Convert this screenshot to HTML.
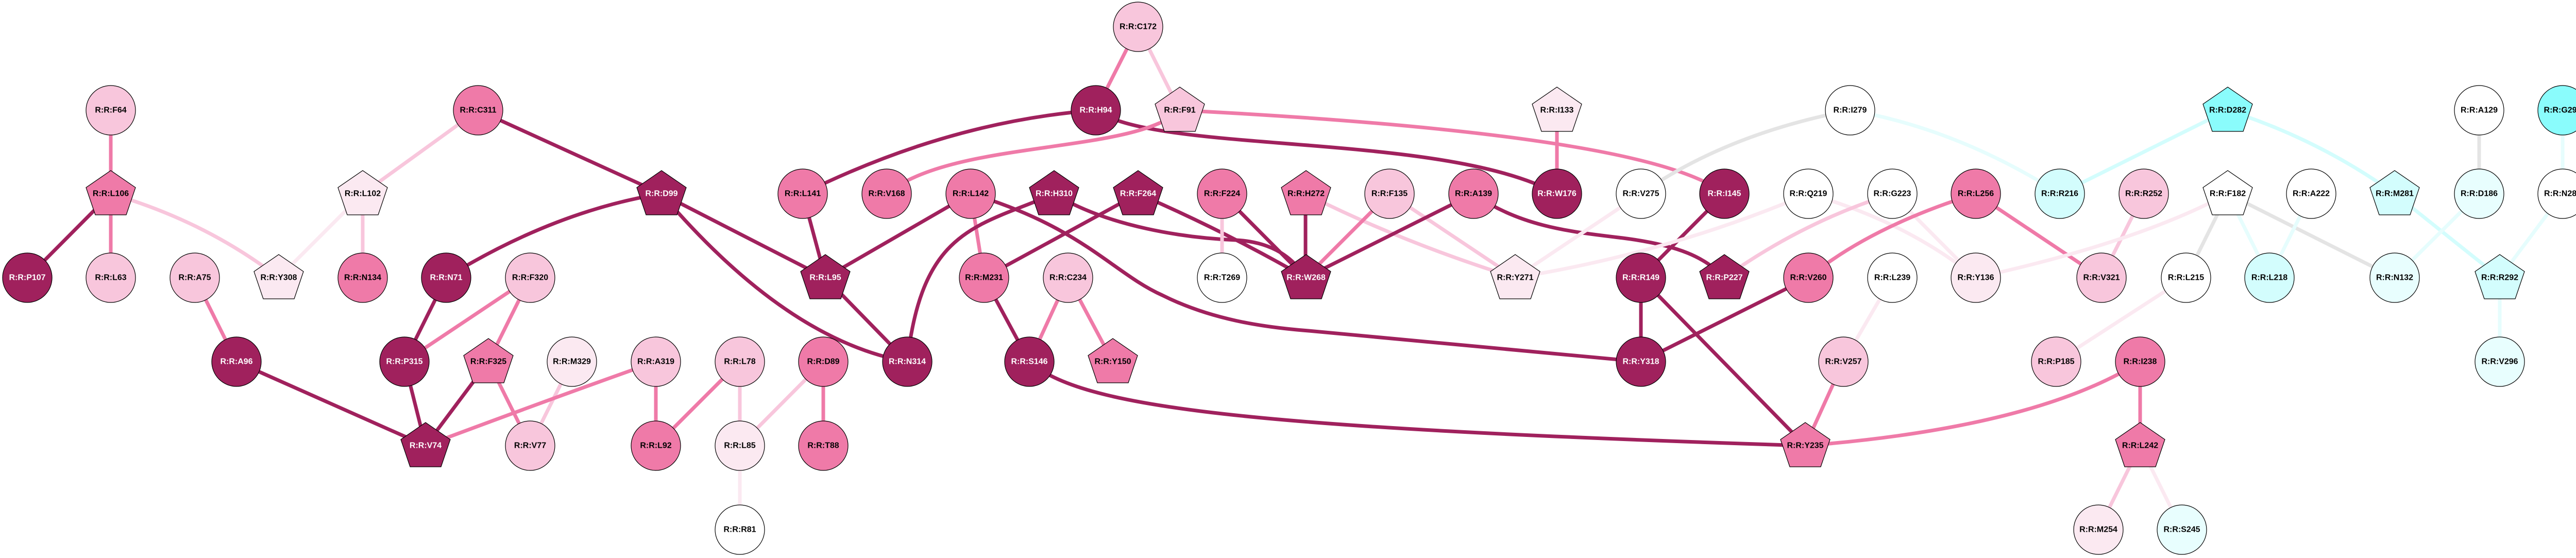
<!DOCTYPE html>
<html><head><meta charset="utf-8"><style>
html,body{margin:0;padding:0;background:#fff;}
svg{display:block;}
text{font-family:"Liberation Sans",Arial,sans-serif;font-weight:bold;font-size:16px;text-anchor:middle;dominant-baseline:central;}
.e{fill:none;stroke-width:7;}
.d{stroke:#a0215d}.m{stroke:#ef7aa8}.l{stroke:#f8c6dc}.v{stroke:#fbe9f1}.g{stroke:#e4e4e4}.c{stroke:#e6fdfd}.c2{stroke:#d3fdfd}
.n circle{stroke:#000;stroke-width:1.2;}
.w text{fill:#fff}
</style></head><body>
<svg width="5028" height="1083" viewBox="0 0 5028 1083" xmlns="http://www.w3.org/2000/svg">
<path class="e m" d="M215,214 L215,376"/>
<path class="e d" d="M215,376 L53,539"/>
<path class="e m" d="M215,376 L215,539"/>
<path class="e l" d="M215,376 Q400,430 541,539"/>
<path class="e l" d="M704,376 L928,214"/>
<path class="e v" d="M704,376 L541,539"/>
<path class="e l" d="M704,376 L704,539"/>
<path class="e m" d="M378,539 L459,702"/>
<path class="e d" d="M459,702 L826,865"/>
<path class="e d" d="M866,539 L785,702"/>
<path class="e m" d="M785,702 L1029,539"/>
<path class="e d" d="M785,702 L826,865"/>
<path class="e d" d="M928,214 L1284,376"/>
<path class="e d" d="M1284,376 Q1075,410 866,539"/>
<path class="e d" d="M1284,376 L1602,539"/>
<path class="e d" d="M1284,376 Q1527,661 1761,702"/>
<path class="e d" d="M1558,376 Q1843,235 2127,214"/>
<path class="e d" d="M1558,376 L1602,539"/>
<path class="e d" d="M1602,539 L1884,376"/>
<path class="e d" d="M1602,539 L1761,702"/>
<path class="e m" d="M1029,539 L948,702"/>
<path class="e d" d="M948,702 L826,865"/>
<path class="e m" d="M948,702 L1029,865"/>
<path class="e l" d="M1110,702 L1029,865"/>
<path class="e m" d="M1273,702 Q1080,770 826,865"/>
<path class="e m" d="M1273,702 L1273,865"/>
<path class="e m" d="M1436,702 L1273,865"/>
<path class="e l" d="M1436,702 L1436,865"/>
<path class="e l" d="M1598,702 L1436,865"/>
<path class="e m" d="M1598,702 L1598,865"/>
<path class="e v" d="M1436,865 L1436,1028"/>
<path class="e m" d="M2209,52 L2127,214"/>
<path class="e l" d="M2209,52 L2290,214"/>
<path class="e d" d="M2127,214 C2250,300 2800,255 3022,376"/>
<path class="e m" d="M2290,214 C2200,300 1850,270 1721,376"/>
<path class="e m" d="M2290,214 Q3200,260 3347,376"/>
<path class="e m" d="M1884,376 L1910,539"/>
<path class="e d" d="M1884,376 C2100,440 2160,530 2256,573 C2350,620 2450,635 2540,642 L3185,702"/>
<path class="e d" d="M2046,376 C1900,440 1790,440 1761,702"/>
<path class="e d" d="M2046,376 C2150,440 2300,462 2400,466 C2470,470 2510,500 2534,539"/>
<path class="e d" d="M2209,376 L1910,539"/>
<path class="e d" d="M2209,376 Q2380,450 2534,539"/>
<path class="e l" d="M2372,376 L2372,539"/>
<path class="e d" d="M2372,376 L2534,539"/>
<path class="e d" d="M2534,376 L2534,539"/>
<path class="e l" d="M2534,376 Q2720,470 2941,539"/>
<path class="e m" d="M2697,376 L2534,539"/>
<path class="e l" d="M2697,376 L2941,539"/>
<path class="e d" d="M2860,376 L2534,539"/>
<path class="e d" d="M2860,376 C2950,440 3050,450 3150,462 C3260,476 3310,500 3347,539"/>
<path class="e m" d="M3022,214 L3022,376"/>
<path class="e g" d="M3185,376 Q3350,260 3591,214"/>
<path class="e v" d="M3185,376 L2941,539"/>
<path class="e d" d="M3347,376 L3185,539"/>
<path class="e v" d="M2941,539 Q3236,492 3510,376"/>
<path class="e v" d="M3510,376 Q3700,430 3835,539"/>
<path class="e l" d="M3673,376 Q3500,430 3347,539"/>
<path class="e v" d="M3673,376 L3835,539"/>
<path class="e m" d="M3835,376 Q3630,440 3510,539"/>
<path class="e m" d="M3835,376 L4079,539"/>
<path class="e l" d="M4161,376 L4079,539"/>
<path class="e v" d="M3835,539 Q4150,470 4324,376"/>
<path class="e v" d="M3673,539 L3578,702"/>
<path class="e m" d="M3578,702 L3504,865"/>
<path class="e v" d="M3991,702 L4243,539"/>
<path class="e m" d="M4154,702 Q3950,830 3504,865"/>
<path class="e m" d="M4154,702 L4154,865"/>
<path class="e l" d="M4154,865 L4073,1028"/>
<path class="e v" d="M4154,865 L4235,1028"/>
<path class="e d" d="M3185,539 L3185,702"/>
<path class="e d" d="M3185,539 L3504,865"/>
<path class="e d" d="M3185,702 L3510,539"/>
<path class="e d" d="M1998,702 C2100,790 2400,830 3504,865"/>
<path class="e d" d="M1910,539 L1998,702"/>
<path class="e m" d="M2073,539 L1998,702"/>
<path class="e m" d="M2073,539 L2160,702"/>
<path class="e c" d="M3591,214 Q3800,250 3998,376"/>
<path class="e c2" d="M3998,376 L4324,214"/>
<path class="e c2" d="M4324,214 Q4500,270 4648,376"/>
<path class="e g" d="M4324,376 L4243,539"/>
<path class="e c" d="M4324,376 L4405,539"/>
<path class="e g" d="M4324,376 Q4480,455 4648,539"/>
<path class="e c" d="M4486,376 L4405,539"/>
<path class="e c2" d="M4648,376 L4852,539"/>
<path class="e g" d="M4812,214 L4812,376"/>
<path class="e c" d="M4812,376 L4648,539"/>
<path class="e c" d="M4974,214 L4974,376"/>
<path class="e c" d="M4974,376 L4852,539"/>
<path class="e c" d="M4852,539 L4852,702"/>

<defs>
<polygon id="pg" points="0,-45 48,-12 30,41 -30,41 -48,-12"/>
</defs>
<g class="n">
<g transform="translate(215,214)"><circle r="48" fill="#f8c6dc"/><text>R:R:F64</text></g>
<g class="w" transform="translate(53,539)"><circle r="48" fill="#a0215d"/><text>R:R:P107</text></g>
<g transform="translate(215,539)"><circle r="48" fill="#f8c6dc"/><text>R:R:L63</text></g>
<g transform="translate(378,539)"><circle r="48" fill="#f8c6dc"/><text>R:R:A75</text></g>
<g transform="translate(704,539)"><circle r="48" fill="#ef7aa8"/><text>R:R:N134</text></g>
<g class="w" transform="translate(459,702)"><circle r="48" fill="#a0215d"/><text>R:R:A96</text></g>
<g class="w" transform="translate(785,702)"><circle r="48" fill="#a0215d"/><text>R:R:P315</text></g>
<g class="w" transform="translate(866,539)"><circle r="48" fill="#a0215d"/><text>R:R:N71</text></g>
<g transform="translate(928,214)"><circle r="48" fill="#ef7aa8"/><text>R:R:C311</text></g>
<g transform="translate(1558,376)"><circle r="48" fill="#ef7aa8"/><text>R:R:L141</text></g>
<g transform="translate(1029,539)"><circle r="48" fill="#f8c6dc"/><text>R:R:F320</text></g>
<g transform="translate(1110,702)"><circle r="48" fill="#fbe9f1"/><text>R:R:M329</text></g>
<g transform="translate(1273,702)"><circle r="48" fill="#f8c6dc"/><text>R:R:A319</text></g>
<g transform="translate(1436,702)"><circle r="48" fill="#f8c6dc"/><text>R:R:L78</text></g>
<g transform="translate(1598,702)"><circle r="48" fill="#ef7aa8"/><text>R:R:D89</text></g>
<g transform="translate(1029,865)"><circle r="48" fill="#f8c6dc"/><text>R:R:V77</text></g>
<g transform="translate(1273,865)"><circle r="48" fill="#ef7aa8"/><text>R:R:L92</text></g>
<g transform="translate(1436,865)"><circle r="48" fill="#fbe9f1"/><text>R:R:L85</text></g>
<g transform="translate(1598,865)"><circle r="48" fill="#ef7aa8"/><text>R:R:T88</text></g>
<g transform="translate(1436,1028)"><circle r="48" fill="#fff"/><text>R:R:R81</text></g>
<g transform="translate(2209,52)"><circle r="48" fill="#f8c6dc"/><text>R:R:C172</text></g>
<g class="w" transform="translate(2127,214)"><circle r="48" fill="#a0215d"/><text>R:R:H94</text></g>
<g transform="translate(1721,376)"><circle r="48" fill="#ef7aa8"/><text>R:R:V168</text></g>
<g transform="translate(1884,376)"><circle r="48" fill="#ef7aa8"/><text>R:R:L142</text></g>
<g transform="translate(2372,376)"><circle r="48" fill="#ef7aa8"/><text>R:R:F224</text></g>
<g transform="translate(1910,539)"><circle r="48" fill="#ef7aa8"/><text>R:R:M231</text></g>
<g transform="translate(2073,539)"><circle r="48" fill="#f8c6dc"/><text>R:R:C234</text></g>
<g transform="translate(2372,539)"><circle r="48" fill="#fff"/><text>R:R:T269</text></g>
<g class="w" transform="translate(1761,702)"><circle r="48" fill="#a0215d"/><text>R:R:N314</text></g>
<g class="w" transform="translate(1998,702)"><circle r="48" fill="#a0215d"/><text>R:R:S146</text></g>
<g transform="translate(2697,376)"><circle r="48" fill="#f8c6dc"/><text>R:R:F135</text></g>
<g transform="translate(2860,376)"><circle r="48" fill="#ef7aa8"/><text>R:R:A139</text></g>
<g class="w" transform="translate(3022,376)"><circle r="48" fill="#a0215d"/><text>R:R:W176</text></g>
<g transform="translate(3185,376)"><circle r="48" fill="#fff"/><text>R:R:V275</text></g>
<g class="w" transform="translate(3347,376)"><circle r="48" fill="#a0215d"/><text>R:R:I145</text></g>
<g class="w" transform="translate(3185,539)"><circle r="48" fill="#a0215d"/><text>R:R:R149</text></g>
<g class="w" transform="translate(3185,702)"><circle r="48" fill="#a0215d"/><text>R:R:Y318</text></g>
<g transform="translate(3591,214)"><circle r="48" fill="#fff"/><text>R:R:I279</text></g>
<g transform="translate(3510,376)"><circle r="48" fill="#fff"/><text>R:R:Q219</text></g>
<g transform="translate(3673,376)"><circle r="48" fill="#fff"/><text>R:R:G223</text></g>
<g transform="translate(3835,376)"><circle r="48" fill="#ef7aa8"/><text>R:R:L256</text></g>
<g transform="translate(3998,376)"><circle r="48" fill="#d3fdfd"/><text>R:R:R216</text></g>
<g transform="translate(4161,376)"><circle r="48" fill="#f8c6dc"/><text>R:R:R252</text></g>
<g transform="translate(3510,539)"><circle r="48" fill="#ef7aa8"/><text>R:R:V260</text></g>
<g transform="translate(3673,539)"><circle r="48" fill="#fff"/><text>R:R:L239</text></g>
<g transform="translate(3835,539)"><circle r="48" fill="#fbe9f1"/><text>R:R:Y136</text></g>
<g transform="translate(4079,539)"><circle r="48" fill="#f8c6dc"/><text>R:R:V321</text></g>
<g transform="translate(3578,702)"><circle r="48" fill="#f8c6dc"/><text>R:R:V257</text></g>
<g transform="translate(3991,702)"><circle r="48" fill="#f8c6dc"/><text>R:R:P185</text></g>
<g transform="translate(4154,702)"><circle r="48" fill="#ef7aa8"/><text>R:R:I238</text></g>
<g transform="translate(4073,1028)"><circle r="48" fill="#fbe9f1"/><text>R:R:M254</text></g>
<g transform="translate(4235,1028)"><circle r="48" fill="#e8fefe"/><text>R:R:S245</text></g>
<g transform="translate(4812,214)"><circle r="48" fill="#fff"/><text>R:R:A129</text></g>
<g transform="translate(4974,214)"><circle r="48" fill="#8afcfc"/><text>R:R:G291</text></g>
<g transform="translate(4486,376)"><circle r="48" fill="#fff"/><text>R:R:A222</text></g>
<g transform="translate(4812,376)"><circle r="48" fill="#e8fefe"/><text>R:R:D186</text></g>
<g transform="translate(4974,376)"><circle r="48" fill="#fff"/><text>R:R:N289</text></g>
<g transform="translate(4243,539)"><circle r="48" fill="#fff"/><text>R:R:L215</text></g>
<g transform="translate(4405,539)"><circle r="48" fill="#d3fdfd"/><text>R:R:L218</text></g>
<g transform="translate(4648,539)"><circle r="48" fill="#e8fefe"/><text>R:R:N132</text></g>
<g transform="translate(4852,702)"><circle r="48" fill="#e8fefe"/><text>R:R:V296</text></g>
<g transform="translate(215,376)"><use href="#pg" fill="#ef7aa8" stroke="#000" stroke-width="1.2"/><text>R:R:L106</text></g>
<g transform="translate(704,376)"><use href="#pg" fill="#fbe9f1" stroke="#000" stroke-width="1.2"/><text>R:R:L102</text></g>
<g transform="translate(541,539)"><use href="#pg" fill="#fbe9f1" stroke="#000" stroke-width="1.2"/><text>R:R:Y308</text></g>
<g class="w" transform="translate(1284,376)"><use href="#pg" fill="#a0215d" stroke="#000" stroke-width="1.2"/><text>R:R:D99</text></g>
<g class="w" transform="translate(1602,539)"><use href="#pg" fill="#a0215d" stroke="#000" stroke-width="1.2"/><text>R:R:L95</text></g>
<g class="w" transform="translate(826,865)"><use href="#pg" fill="#a0215d" stroke="#000" stroke-width="1.2"/><text>R:R:V74</text></g>
<g transform="translate(948,702)"><use href="#pg" fill="#ef7aa8" stroke="#000" stroke-width="1.2"/><text>R:R:F325</text></g>
<g transform="translate(2290,214)"><use href="#pg" fill="#f8c6dc" stroke="#000" stroke-width="1.2"/><text>R:R:F91</text></g>
<g class="w" transform="translate(2046,376)"><use href="#pg" fill="#a0215d" stroke="#000" stroke-width="1.2"/><text>R:R:H310</text></g>
<g class="w" transform="translate(2209,376)"><use href="#pg" fill="#a0215d" stroke="#000" stroke-width="1.2"/><text>R:R:F264</text></g>
<g transform="translate(2535,376)"><use href="#pg" fill="#ef7aa8" stroke="#000" stroke-width="1.2"/><text>R:R:H272</text></g>
<g class="w" transform="translate(2535,539)"><use href="#pg" fill="#a0215d" stroke="#000" stroke-width="1.2"/><text>R:R:W268</text></g>
<g transform="translate(2160,702)"><use href="#pg" fill="#ef7aa8" stroke="#000" stroke-width="1.2"/><text>R:R:Y150</text></g>
<g transform="translate(3022,214)"><use href="#pg" fill="#fbe9f1" stroke="#000" stroke-width="1.2"/><text>R:R:I133</text></g>
<g transform="translate(2941,539)"><use href="#pg" fill="#fbe9f1" stroke="#000" stroke-width="1.2"/><text>R:R:Y271</text></g>
<g class="w" transform="translate(3347,539)"><use href="#pg" fill="#a0215d" stroke="#000" stroke-width="1.2"/><text>R:R:P227</text></g>
<g transform="translate(3504,865)"><use href="#pg" fill="#ef7aa8" stroke="#000" stroke-width="1.2"/><text>R:R:Y235</text></g>
<g transform="translate(4154,865)"><use href="#pg" fill="#ef7aa8" stroke="#000" stroke-width="1.2"/><text>R:R:L242</text></g>
<g transform="translate(4324,214)"><use href="#pg" fill="#8afcfc" stroke="#000" stroke-width="1.2"/><text>R:R:D282</text></g>
<g transform="translate(4324,376)"><use href="#pg" fill="#fff" stroke="#000" stroke-width="1.2"/><text>R:R:F182</text></g>
<g transform="translate(4648,376)"><use href="#pg" fill="#d3fdfd" stroke="#000" stroke-width="1.2"/><text>R:R:M281</text></g>
<g transform="translate(4852,539)"><use href="#pg" fill="#d3fdfd" stroke="#000" stroke-width="1.2"/><text>R:R:R292</text></g>
</g>
</svg>
</body></html>
